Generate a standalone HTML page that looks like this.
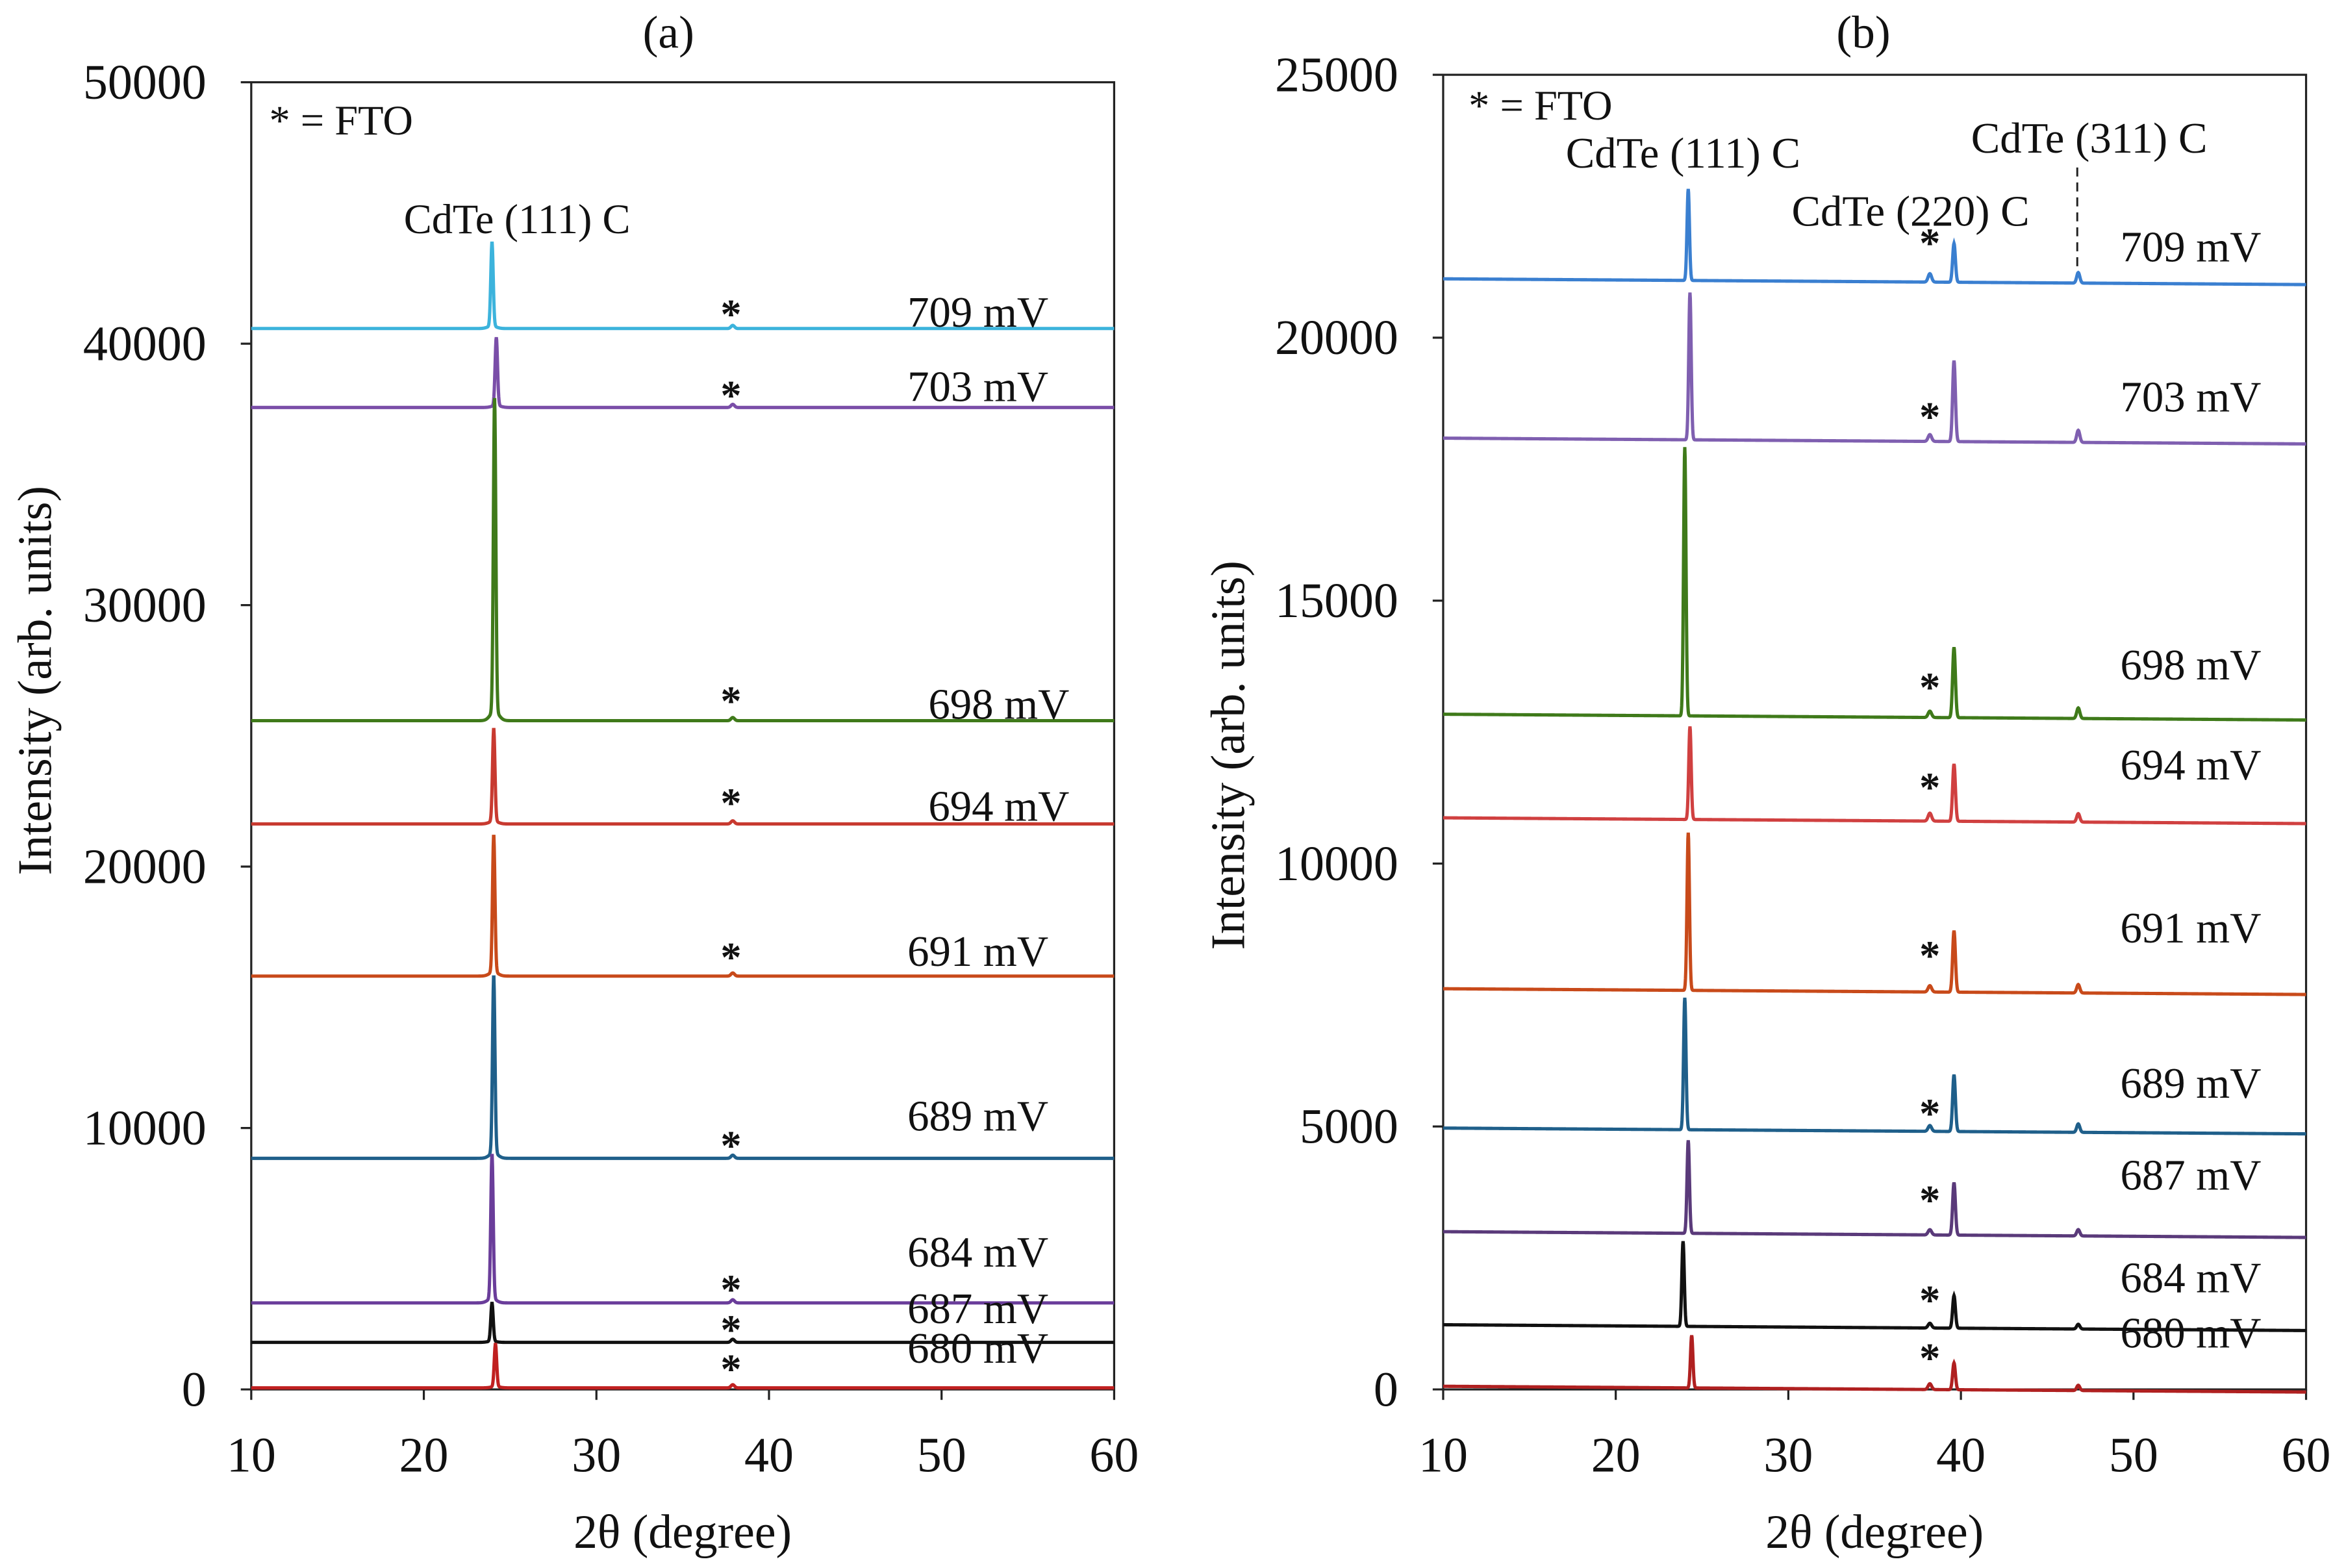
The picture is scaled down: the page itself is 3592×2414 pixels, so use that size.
<!DOCTYPE html>
<html><head><meta charset="utf-8"><style>
html,body{margin:0;padding:0;background:#fff}
svg{display:block}
text{font-family:"Liberation Serif",serif;fill:#111}
</style></head><body>
<svg id="chart" xmlns="http://www.w3.org/2000/svg" width="3592" height="2414" viewBox="0 0 1560 1048.4">
<g id="pa"></g>
<g id="pb"></g>
</svg>
<script>
// Panel (a) data
const aLabels = ["709 mV","703 mV","698 mV","694 mV","691 mV","689 mV","684 mV","687 mV","680 mV"];
const aBase = [40580,37560,25580,21630,15810,8840,3310,1800,60];
const aPeak = [43780,40170,37560,25170,21050,15640,8840,3260,1690];
const aPos = [23.95,24.2,24.1,24.05,24.05,24.05,23.95,23.95,24.15];
const aColors = ["#3cb3dc","#7a4ea8","#3f7a1a","#c83a30","#c84a1a","#1f5f8a","#6a3d9a","#111111","#c02020"];
const aLabelY = [40650,37800,25650,21760,16200,9900,4700,2540,1020];
const aStarY = [40700,37600,25900,22000,16100,8900,3400,1850,350];
// Panel (b) data
const bLabels = ["709 mV","703 mV","698 mV","694 mV","691 mV","689 mV","687 mV","684 mV","680 mV"];
const bBase = [21120,18090,12840,10870,7620,4970,3000,1230,60];
const bP111 = [22860,20890,17950,12640,10620,7480,4770,2850,1060];
const bP220 = [21860,19630,14180,11960,8790,6050,4000,1850,570];
const bP311 = [21320,18320,13040,11030,7780,5130,3120,1320,160];
const bFTO = [21280,18220,12960,11020,7740,5080,3100,1320,170];
const bPos111 = [24.2,24.3,24.0,24.3,24.2,24.0,24.2,23.9,24.4];
const bColors = ["#3a7fd0","#7f5fb0","#3f7a1a","#d04040","#c84a1a","#1f5f8a","#5a3a7a","#111111","#b02020"];
const bLabelY = [21450,18600,13500,11600,8500,5550,3800,1850,800];
const bStarY = [21700,18400,13250,11350,8150,5150,3500,1600,500];
const aXTicks=[10,20,30,40,50,60], aYTicks=[0,10000,20000,30000,40000,50000];
const bXTicks=[10,20,30,40,50,60], bYTicks=[0,5000,10000,15000,20000,25000];

const NS="http://www.w3.org/2000/svg";
function el(p,t,a,txt){const e=document.createElementNS(NS,t);for(const k in a)e.setAttribute(k,a[k]);if(txt!==undefined)e.textContent=txt;p.appendChild(e);return e;}
function g(x,c,s){return Math.exp(-0.5*((x-c)/s)**2);}

function panel(root,L,R,T,B,ymax,xTicks,yTicks,title,cx){
  const sx=x=>L+(x-10)/50*(R-L);
  const sy=v=>B-v/ymax*(B-T);
  let f=el(root,'rect',{x:L,y:T,width:R-L,height:B-T,fill:'none',stroke:'#222','stroke-width':1.4});
  
  xTicks.forEach(t=>{
    let l=el(root,'line',{x1:sx(t),x2:sx(t),y1:B,y2:B+7,stroke:'#222','stroke-width':1.4});
    
    let tx=el(root,'text',{x:sx(t),y:B+55,'text-anchor':'middle','font-size':33},t);
    
  });
  yTicks.forEach(t=>{
    let l=el(root,'line',{x1:L-7,x2:L,y1:sy(t),y2:sy(t),stroke:'#222','stroke-width':1.4});
    
    let tx=el(root,'text',{x:L-30,y:sy(t)+11,'text-anchor':'end','font-size':33},t);
    
  });
  let xt=el(root,'text',{x:(L+R)/2,y:1035,'text-anchor':'middle','font-size':32},'2θ (degree)');
  
  let tt=el(root,'text',{x:cx,y:32,'text-anchor':'middle','font-size':31},title);
  
  return {sx,sy};
}

// Panel a
const pa=document.getElementById('pa');
const A=panel(pa,168,745,55,929,50000,aXTicks,aYTicks,'(a)',447);
let yta=el(pa,'text',{transform:'translate(34,455) rotate(-90)','text-anchor':'middle','font-size':32},'Intensity  (arb. units)');

let lga=el(pa,'text',{x:180,y:90,'font-size':28},'* = FTO');

let pla=el(pa,'text',{x:270,y:156,'font-size':28},'CdTe (111) C');

aLabels.forEach((lab,i)=>{
  let d='';
  for(let x=10;x<=60.001;x+=0.02){
    const v=aBase[i]+(aPeak[i]-aBase[i])*g(x,aPos[i],0.07)+(aPeak[i]-aBase[i])*0.03*g(x,aPos[i],0.25)+120*g(x,37.9,0.1);
    d+=(d?'L':'M')+A.sx(x).toFixed(2)+','+A.sy(v).toFixed(2);
  }
  let p=el(pa,'path',{d,fill:'none',stroke:aColors[i],'stroke-width':2.2});
  
  let s=el(pa,'text',{x:A.sx(37.8),y:A.sy(aStarY[i])+2,'text-anchor':'middle','font-size':28,'font-weight':'bold'},'*');
  
  let t=el(pa,'text',{x:i==2||i==3?715:701,y:A.sy(aLabelY[i]),'text-anchor':'end','font-size':29},lab);
  
});

// Panel b
const pb=document.getElementById('pb');
const Bp=panel(pb,965,1542,50,929,25000,bXTicks,bYTicks,'(b)',1246);
let ytb=el(pb,'text',{transform:'translate(832,505) rotate(-90)','text-anchor':'middle','font-size':32},'Intensity  (arb. units)');

let lgb=el(pb,'text',{x:982,y:80,'font-size':28},'* = FTO');

[['CdTe (111) C',1047,112,'peak-label-111'],['CdTe (220) C',1198,151,'peak-label-220'],['CdTe (311) C',1318,102,'peak-label-311']].forEach(a=>{
  let t=el(pb,'text',{x:a[1],y:a[2],'font-size':29},a[0]);
  
});
let dl=el(pb,'line',{x1:1389,x2:1389,y1:112,y2:185,stroke:'#222','stroke-width':1.3,'stroke-dasharray':'6,4'});

bLabels.forEach((lab,i)=>{
  let d='';
  const b=bBase[i];
  for(let x=10;x<=60.001;x+=0.02){
    const base=b-(x-10)/50*110;
    const v=base+(bP111[i]-b)*g(x,bPos111[i],0.07)+(bP220[i]-b)*g(x,39.6,0.08)+(bP311[i]-b)*g(x,46.8,0.09)+(bFTO[i]-b)*g(x,38.2,0.1);
    d+=(d?'L':'M')+Bp.sx(x).toFixed(2)+','+Bp.sy(v).toFixed(2);
  }
  let p=el(pb,'path',{d,fill:'none',stroke:bColors[i],'stroke-width':2.2});
  
  let s=el(pb,'text',{x:Bp.sx(38.2),y:Bp.sy(bStarY[i])+6,'text-anchor':'middle','font-size':28,'font-weight':'bold'},'*');
  
  let t=el(pb,'text',{x:1512,y:Bp.sy(bLabelY[i]),'text-anchor':'end','font-size':29},lab);
  
});
</script>
</body></html>
